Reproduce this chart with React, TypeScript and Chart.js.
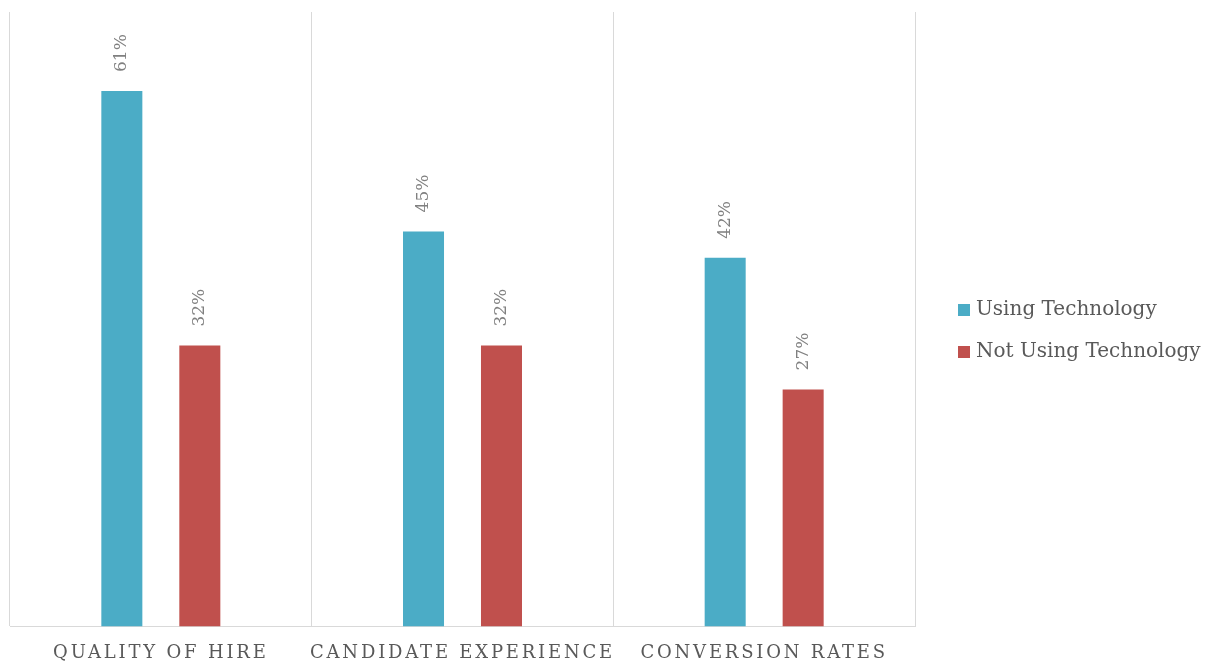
import React, { useEffect, useRef } from "react";
import { Chart, registerables } from "chart.js";

Chart.register(...registerables);

const categories = ["QUALITY OF HIRE", "CANDIDATE EXPERIENCE", "CONVERSION RATES"];
const seriesNames = ["Using Technology", "Not Using Technology"];
const usingTech = [61, 45, 42];
const notUsingTech = [32, 32, 27];
const seriesColors = ["#4BACC6", "#C0504D"];
const yMax = 70;

const FONT = "'DejaVu Serif', 'Liberation Serif', serif";
const GRID = "#d9d9d9";

const letterSpacingPlugin = {
  id: "letterSpacingTicks",
  beforeDraw(chart: any) {
    chart.ctx.letterSpacing = "2.8px";
  },
  beforeDatasetsDraw(chart: any) {
    chart.ctx.letterSpacing = "0px";
  },
};

const dataLabelPlugin = {
  id: "dataLabels",
  afterDatasetsDraw(chart: any) {
    const ctx = chart.ctx;
    ctx.save();
    ctx.font = `17px ${FONT}`;
    ctx.fillStyle = "#808080";
    ctx.textAlign = "left";
    ctx.textBaseline = "middle";
    chart.data.datasets.forEach((ds: any, di: number) => {
      chart.getDatasetMeta(di).data.forEach((bar: any, i: number) => {
        ctx.save();
        ctx.translate(bar.x, bar.y - 19);
        ctx.rotate(-Math.PI / 2);
        ctx.fillText(`${ds.data[i]}%`, 0, 0);
        ctx.restore();
      });
    });
    ctx.restore();
  },
};

const legendPlugin = {
  id: "sideLegend",
  afterDraw(chart: any) {
    const ctx = chart.ctx;
    const area = chart.chartArea;
    const x = area.right + 43;
    const spacing = 42;
    const n = chart.data.datasets.length;
    const cy = 331 - ((n - 1) * spacing) / 2;
    ctx.save();
    ctx.font = `20px ${FONT}`;
    ctx.textBaseline = "middle";
    ctx.textAlign = "left";
    chart.data.datasets.forEach((ds: any, i: number) => {
      const y = cy + i * spacing;
      ctx.fillStyle = ds.backgroundColor;
      ctx.fillRect(x, y - 6, 12, 12);
      ctx.fillStyle = "#595959";
      ctx.fillText(ds.label, x + 18, y);
    });
    ctx.restore();
  },
};

export default function App() {
  const ref = useRef<HTMLCanvasElement>(null);
  useEffect(() => {
    document.body.style.margin = "0";
    const chart = new Chart(ref.current!, {
      type: "bar",
      data: {
        labels: categories,
        datasets: [
          { label: seriesNames[0], data: usingTech, backgroundColor: seriesColors[0] },
          { label: seriesNames[1], data: notUsingTech, backgroundColor: seriesColors[1] },
        ],
      },
      options: {
        animation: false,
        responsive: false,
        maintainAspectRatio: false,
        layout: { padding: { left: 10, right: 296, top: 12, bottom: -16 } },
        datasets: { bar: { categoryPercentage: 0.517, barPercentage: 0.526 } },
        plugins: { legend: { display: false }, tooltip: { enabled: false } },
        scales: {
          x: {
            grid: { display: true, offset: true, color: GRID, lineWidth: 1, drawTicks: false },
            border: { display: true, color: GRID, width: 1 },
            ticks: {
              font: { family: FONT, size: 18 },
              color: "#595959",
              padding: 16,
              maxRotation: 0,
              autoSkip: false,
            },
          },
          y: { display: false, min: 0, max: yMax },
        },
      },
      plugins: [letterSpacingPlugin, dataLabelPlugin, legendPlugin],
    });
    return () => chart.destroy();
  }, []);
  return (
    <div style={{ width: 1211, height: 664 }}>
      <canvas ref={ref} width={1211} height={664} />
    </div>
  );
}
